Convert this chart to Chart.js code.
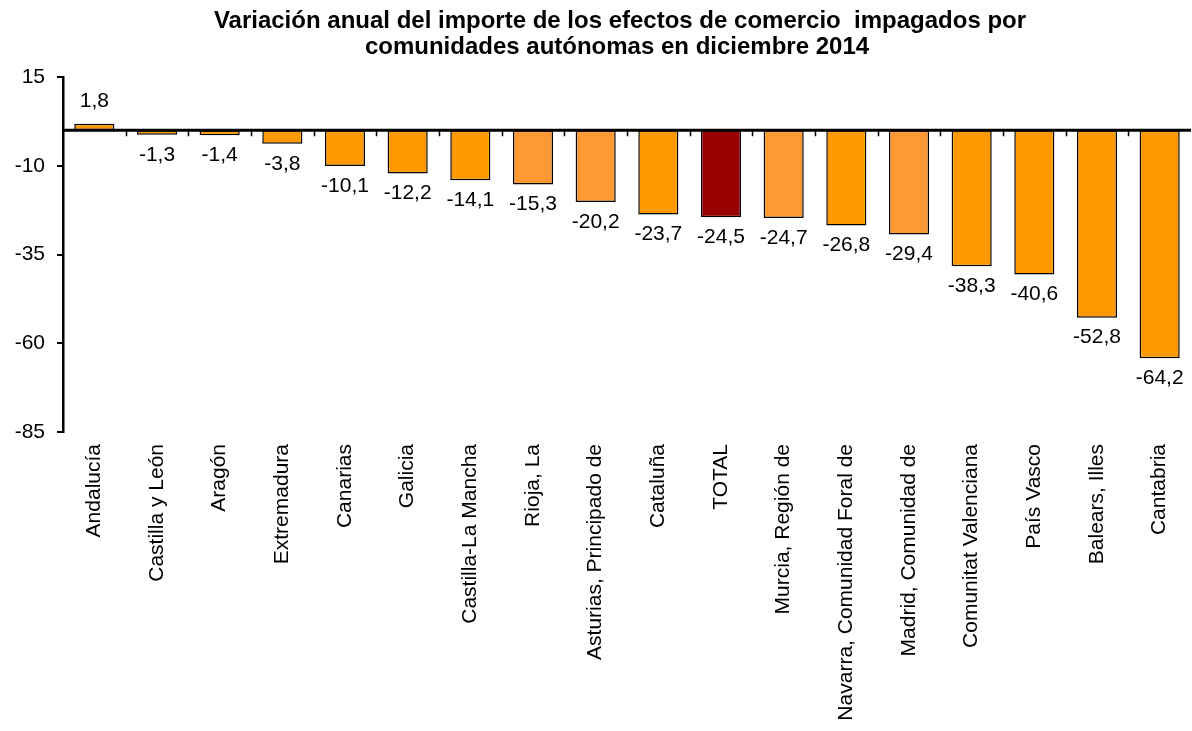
<!DOCTYPE html>
<html>
<head>
<meta charset="utf-8">
<script src="https://cdn.jsdelivr.net/npm/chart.js@4"></script>
<style>
  html, body { margin: 0; padding: 0; background: #fff; }
  #wrap { width: 1192px; height: 731px; }
</style>
</head>
<body>
<div id="wrap"><canvas id="chart"></canvas></div>
<script>
// datos del gráfico
var regiones = ['Andalucía', 'Castilla y León', 'Aragón', 'Extremadura', 'Canarias', 'Galicia',
    'Castilla-La Mancha', 'Rioja, La', 'Asturias, Principado de', 'Cataluña', 'TOTAL',
    'Murcia, Región de', 'Navarra, Comunidad Foral de', 'Madrid, Comunidad de',
    'Comunitat Valenciana', 'País Vasco', 'Balears, Illes', 'Cantabria'];
var variacion = [1.8, -1.3, -1.4, -3.8, -10.1, -12.2, -14.1, -15.3, -20.2, -23.7, -24.5,
    -24.7, -26.8, -29.4, -38.3, -40.6, -52.8, -64.2];
var colores = ['#FF9900', '#FF9900', '#FF9900', '#FF9900', '#FF9900', '#FF9900', '#FF9900',
    '#FF9933', '#FF9933', '#FF9900', '#990000', '#FF9933', '#FF9900', '#FF9933',
    '#FF9900', '#FF9900', '#FF9900', '#FF9900'];
var ticksY = [15, -10, -35, -60, -85];
var titulo = ['Variación anual del importe de los efectos de comercio  impagados por',
    'comunidades autónomas en diciembre 2014'];

var fuente = "'Liberation Sans', Arial, sans-serif";

// título (centrado como en el original, algo a la derecha)
var tituloPlugin = {
    id: 'tituloPlugin',
    afterDraw: function (chart) {
        var ctx = chart.ctx;
        ctx.save();
        ctx.font = 'bold 24px ' + fuente;
        ctx.fillStyle = '#000';
        ctx.textAlign = 'center';
        ctx.textBaseline = 'middle';
        ctx.fillText(titulo[0], 620, 21);
        ctx.fillText(titulo[1], 617, 47);
        ctx.restore();
    }
};

// línea del cero y marcas de categoría
var lineaCero = {
    id: 'lineaCero',
    afterDatasetsDraw: function (chart) {
        var ctx = chart.ctx;
        var x = chart.scales.x, y = chart.scales.y;
        var y0 = y.getPixelForValue(0);
        ctx.save();
        ctx.strokeStyle = '#000';
        ctx.lineWidth = 3;
        ctx.beginPath();
        ctx.moveTo(chart.chartArea.left, y0);
        ctx.lineTo(chart.chartArea.right, y0);
        ctx.stroke();
        ctx.lineWidth = 1.5;
        var w = (x.right - x.left) / regiones.length;
        for (var i = 1; i < regiones.length; i++) {
            var xx = Math.round(x.left + i * w) + 0.5;
            ctx.beginPath();
            ctx.moveTo(xx, y0);
            ctx.lineTo(xx, y0 + 6);
            ctx.stroke();
        }
        ctx.restore();
    }
};

// etiquetas de valores
var etiquetas = {
    id: 'etiquetas',
    afterDatasetsDraw: function (chart) {
        var ctx = chart.ctx;
        var meta = chart.getDatasetMeta(0);
        ctx.save();
        ctx.font = '21px ' + fuente;
        ctx.fillStyle = '#000';
        ctx.textAlign = 'center';
        ctx.textBaseline = 'middle';
        meta.data.forEach(function (bar, i) {
            var v = variacion[i];
            var txt = v.toFixed(1).replace('.', ',');
            var yy = v >= 0 ? bar.y - 23 : bar.y + 20;
            ctx.fillText(txt, bar.x, yy);
        });
        ctx.restore();
    }
};

var ctx = document.getElementById('chart').getContext('2d');
var grafico = new Chart(ctx, {
    type: 'bar',
    data: {
        labels: regiones,
        datasets: [{
            data: variacion,
            backgroundColor: colores,
            borderColor: '#000',
            borderWidth: 1.5,
            borderSkipped: false,
            categoryPercentage: 1,
            barPercentage: 0.64
        }]
    },
    plugins: [lineaCero, etiquetas, tituloPlugin],
    options: {
        responsive: true,
        maintainAspectRatio: false,
        animation: false,
        layout: { padding: { left: 0, right: 1, top: 77, bottom: 0 } },
        plugins: {
            legend: { display: false },
            tooltip: { enabled: false },
            title: { display: false }
        },
        scales: {
            x: {
                grid: { display: false },
                border: { display: false },
                ticks: {
                    minRotation: 90,
                    maxRotation: 90,
                    autoSkip: false,
                    padding: 4,
                    color: '#000',
                    font: { family: fuente, size: 21 }
                },
                afterFit: function (s) { s.height = 299; }
            },
            y: {
                min: -85,
                max: 15,
                afterBuildTicks: function (s) {
                    s.ticks = ticksY.map(function (v) { return { value: v }; });
                },
                grid: { drawOnChartArea: false, drawTicks: true, tickLength: 6, color: '#000', lineWidth: 2 },
                border: { display: true, color: '#000', width: 2.5 },
                ticks: {
                    color: '#000',
                    padding: 12,
                    font: { family: fuente, size: 21 }
                },
                afterFit: function (s) { s.width = 63; }
            }
        }
    }
});
</script>
</body>
</html>
